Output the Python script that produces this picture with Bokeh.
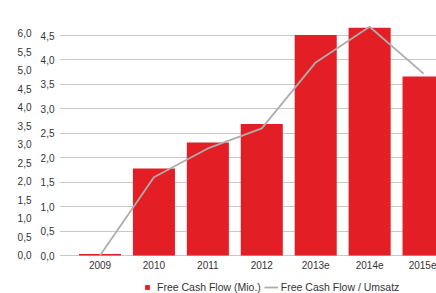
from bokeh.plotting import figure
from bokeh.models import (Range1d, LinearAxis, FixedTicker, Legend, LegendItem,
                          ColumnDataSource, CustomJSTickFormatter)
from bokeh.embed import file_html
from bokeh.resources import INLINE

# ---- data ----
years = ["2009", "2010", "2011", "2012", "2013e", "2014e", "2015e"]
fcf_mio = [0.03, 1.78, 2.31, 2.69, 4.51, 4.66, 3.66]          # Free Cash Flow (Mio.)
fcf_umsatz = [0.0, 1.60, 2.19, 2.60, 3.95, 4.68, 3.72]        # Free Cash Flow / Umsatz
main_ticks = [0.0, 0.5, 1.0, 1.5, 2.0, 2.5, 3.0, 3.5, 4.0, 4.5]
outer_ticks = [0.0, 0.5, 1.0, 1.5, 2.0, 2.5, 3.0, 3.5, 4.0, 4.5, 5.0, 5.5, 6.0]

xs = list(range(len(years)))
src = ColumnDataSource(dict(x=xs, fcf=fcf_mio, ratio=fcf_umsatz))

FONT = "Liberation Sans"
TXT = "#333333"

# frame spans the full height; value 0 sits 38px above the bottom edge
p = figure(width=436, height=293, output_backend="svg", toolbar_location=None,
           x_range=Range1d(-0.751, 6.24), y_range=Range1d(-0.777, 5.216),
           min_border_left=59, min_border_right=0, min_border_top=0,
           min_border_bottom=0)
p.outline_line_color = None
p.background_fill_color = "white"
p.border_fill_color = "white"

p.extra_y_ranges = {"r2": Range1d(-1.027, 6.89)}

fmt = CustomJSTickFormatter(code="return tick.toFixed(1).replace('.', ',');")

# main (inner) y axis
ya = p.yaxis[0]
ya.ticker = FixedTicker(ticks=main_ticks)
ya.formatter = fmt
ya.axis_line_color = None
ya.major_tick_line_color = None
ya.minor_tick_line_color = None
ya.major_tick_out = 0
ya.major_label_standoff = 5
ya.major_label_text_font = FONT
ya.major_label_text_font_size = "10px"
ya.major_label_text_color = TXT

# outer y axis
oa = LinearAxis(y_range_name="r2", ticker=FixedTicker(ticks=outer_ticks), formatter=fmt)
oa.axis_line_color = None
oa.major_tick_line_color = None
oa.minor_tick_line_color = None
oa.major_tick_out = 0
oa.major_label_standoff = 6
oa.major_label_text_font = FONT
oa.major_label_text_font_size = "10px"
oa.major_label_text_color = TXT
p.add_layout(oa, "left")

# x axis, pinned at value 0
xa = p.xaxis[0]
xa.fixed_location = 0
xa.ticker = FixedTicker(ticks=xs)
xa.major_label_overrides = {i: y for i, y in enumerate(years)}
xa.axis_line_color = None
xa.major_tick_line_color = None
xa.minor_tick_line_color = None
xa.major_tick_out = 0
xa.major_label_standoff = 5
xa.major_label_text_font = FONT
xa.major_label_text_font_size = "10px"
xa.major_label_text_color = TXT

p.xgrid.grid_line_color = None
p.ygrid.ticker = FixedTicker(ticks=main_ticks)
p.ygrid.grid_line_color = "#C8C8C8"
p.ygrid.grid_line_width = 1

r_bar = p.vbar(x="x", top="fcf", width=0.78, source=src,
               fill_color="#E31E24", line_color=None)
r_line = p.line(x="x", y="ratio", source=src, line_color="#ADADAD", line_width=1.8)
# zero-size square marker used only as the legend symbol of the bar series
r_sq = p.scatter(x="x", y="fcf", source=src, marker="square", size=0,
                 fill_color="#E31E24", line_color=None)

legend = Legend(items=[LegendItem(label="Free Cash Flow (Mio.)", renderers=[r_sq]),
                       LegendItem(label="Free Cash Flow / Umsatz", renderers=[r_line])],
                orientation="horizontal", location=(81, 0),
                glyph_width=14, glyph_height=12, label_standoff=3, spacing=3,
                padding=0, margin=0, border_line_color=None, background_fill_alpha=0,
                label_text_font=FONT, label_text_font_size="10.5px",
                label_text_color=TXT, label_height=12)
p.add_layout(legend, "center")

open("out.html", "w").write(file_html(p, INLINE))
